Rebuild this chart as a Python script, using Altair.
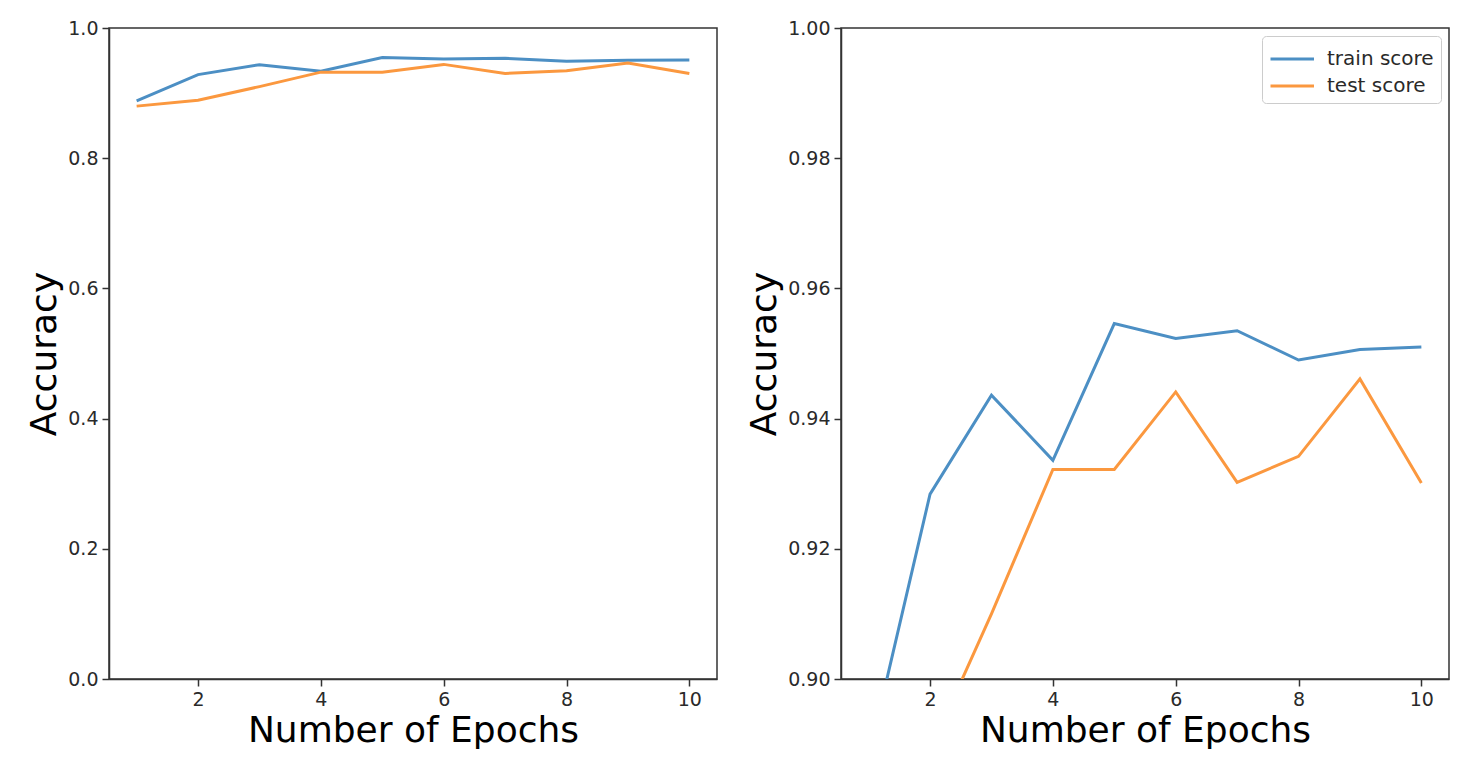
import altair as alt
import pandas as pd

epochs = [1, 2, 3, 4, 5, 6, 7, 8, 9, 10]
train_score = [0.888, 0.9284, 0.9436, 0.9336, 0.9546, 0.9523, 0.9535, 0.9490, 0.9506, 0.9510]
test_score = [0.880, 0.889, 0.910, 0.9322, 0.9322, 0.9441, 0.9302, 0.9342, 0.9461, 0.9301]
series_names = ["train score", "test score"]
series_colors = ["#4c8fc4", "#fb983f"]
x_ticks = [2, 4, 6, 8, 10]
left_y_ticks = [0.0, 0.2, 0.4, 0.6, 0.8, 1.0]
right_y_ticks = [0.90, 0.92, 0.94, 0.96, 0.98, 1.00]

rows = []
for e, tr, te in zip(epochs, train_score, test_score):
    rows.append({"epoch": e, "series": series_names[0], "acc": tr})
    rows.append({"epoch": e, "series": series_names[1], "acc": te})
df = pd.DataFrame(rows)

FONT = "DejaVu Sans"
INK = "#2a2a2a"


def panel(ydomain, yticks, yfmt, show_legend):
    if show_legend:
        legend = alt.Legend(
            title=None, orient="top-right", offset=8, padding=7,
            strokeColor="#cccccc", cornerRadius=4, fillColor="white",
            labelFontSize=20, labelFont=FONT, labelColor=INK,
            symbolType="M-1,0H2", symbolSize=841, symbolStrokeWidth=3,
            rowPadding=1, labelOffset=26,
        )
    else:
        legend = None
    color = alt.Color("series:N", sort=series_names,
                      scale=alt.Scale(domain=series_names, range=series_colors),
                      legend=legend)
    return alt.Chart(df).mark_line(strokeWidth=3, clip=True).encode(
        x=alt.X("epoch:Q", scale=alt.Scale(domain=[0.55, 10.45], nice=False, zero=False),
                axis=alt.Axis(values=x_ticks, format="d", title="Number of Epochs", grid=False)),
        y=alt.Y("acc:Q", scale=alt.Scale(domain=ydomain, nice=False, zero=False),
                axis=alt.Axis(values=yticks, format=yfmt, title="Accuracy", grid=False)),
        color=color,
    ).properties(width=608, height=651)


left = panel([0.0, 1.0], left_y_ticks, ".1f", False)
right = panel([0.9, 1.0], right_y_ticks, ".2f", True)

chart = alt.hconcat(left, right, spacing=27).resolve_legend(color="independent").properties(
    padding={"left": 18, "top": 10, "right": 5, "bottom": 5}
).configure_axis(
    labelFont=FONT, labelFontSize=19, labelColor=INK, labelPadding=4,
    titleFont=FONT, titleFontSize=36, titleFontWeight="normal", titleColor="black",
    tickSize=7, tickColor="#333333", tickWidth=1.5, domainColor="#333333", domainWidth=1.5,
).configure_view(stroke="#333333", strokeWidth=1.5)

chart.save("out.html", embed_options={"renderer": "svg", "actions": False})
